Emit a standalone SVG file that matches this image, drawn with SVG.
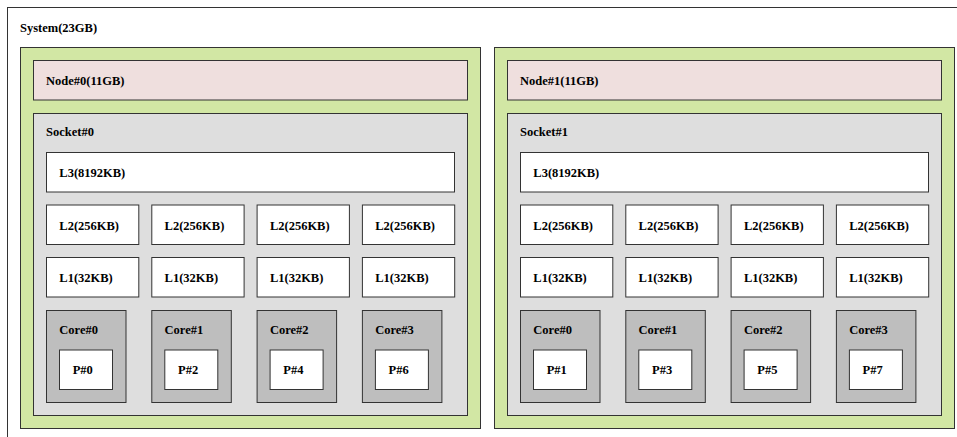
<svg xmlns="http://www.w3.org/2000/svg" width="957" height="437" viewBox="0 0 957 437">
<style>
rect{stroke:#333;stroke-width:1}
.sys{fill:#ffffff}
.node{fill:#d2e7a4}
.mem{fill:#efdfde}
.sock{fill:#dedede}
.cache{fill:#ffffff}
.core{fill:#bebebe}
.pu{fill:#ffffff}
text{font-family:"Liberation Serif","Times New Roman",serif;font-size:12.5px;font-weight:bold;fill:#000}
</style>
<g id="system">
<rect class="sys" x="7.5" y="7.5" width="965" height="445"/>
<text x="20" y="32">System(23GB)</text>
</g>
<g id="node0">
<rect class="node" x="20.5" y="47.5" width="460" height="381"/>
<g id="node0-mem"><rect class="mem" x="33.5" y="60.5" width="434" height="39.5"/><text x="46" y="85.3">Node#0(11GB)</text></g>
<g id="socket0">
<rect class="sock" x="33.5" y="113.5" width="434" height="302"/>
<text x="46" y="136.3">Socket#0</text>
<g id="s0-l3"><rect class="cache" x="46.5" y="152.5" width="408" height="39.5"/><text x="59.3" y="177">L3(8192KB)</text></g>
<g id="s0-l2-0"><rect class="cache" x="46.5" y="205" width="92.3" height="39.5"/><text x="59.3" y="229.5">L2(256KB)</text></g>
<g id="s0-l2-1"><rect class="cache" x="151.8" y="205" width="92.3" height="39.5"/><text x="164.6" y="229.5">L2(256KB)</text></g>
<g id="s0-l2-2"><rect class="cache" x="257.1" y="205" width="92.3" height="39.5"/><text x="269.9" y="229.5">L2(256KB)</text></g>
<g id="s0-l2-3"><rect class="cache" x="362.4" y="205" width="92.3" height="39.5"/><text x="375.2" y="229.5">L2(256KB)</text></g>
<g id="s0-l1-0"><rect class="cache" x="46.5" y="257.5" width="92.3" height="39.5"/><text x="59.3" y="282">L1(32KB)</text></g>
<g id="s0-l1-1"><rect class="cache" x="151.8" y="257.5" width="92.3" height="39.5"/><text x="164.6" y="282">L1(32KB)</text></g>
<g id="s0-l1-2"><rect class="cache" x="257.1" y="257.5" width="92.3" height="39.5"/><text x="269.9" y="282">L1(32KB)</text></g>
<g id="s0-l1-3"><rect class="cache" x="362.4" y="257.5" width="92.3" height="39.5"/><text x="375.2" y="282">L1(32KB)</text></g>
<g id="s0-core0"><rect class="core" x="46.5" y="310.5" width="79.5" height="92"/><text x="59.3" y="334">Core#0</text>
<g id="pu0"><rect class="pu" x="59.5" y="350" width="53" height="39.5"/><text x="72.7" y="373.5">P#0</text></g></g>
<g id="s0-core1"><rect class="core" x="151.8" y="310.5" width="79.5" height="92"/><text x="164.6" y="334">Core#1</text>
<g id="pu2"><rect class="pu" x="164.8" y="350" width="53" height="39.5"/><text x="178" y="373.5">P#2</text></g></g>
<g id="s0-core2"><rect class="core" x="257.1" y="310.5" width="79.5" height="92"/><text x="269.9" y="334">Core#2</text>
<g id="pu4"><rect class="pu" x="270.1" y="350" width="53" height="39.5"/><text x="283.3" y="373.5">P#4</text></g></g>
<g id="s0-core3"><rect class="core" x="362.4" y="310.5" width="79.5" height="92"/><text x="375.2" y="334">Core#3</text>
<g id="pu6"><rect class="pu" x="375.4" y="350" width="53" height="39.5"/><text x="388.6" y="373.5">P#6</text></g></g>
</g>
</g>
<g id="node1" transform="translate(474,0)">
<rect class="node" x="20.5" y="47.5" width="460" height="381"/>
<g id="node1-mem"><rect class="mem" x="33.5" y="60.5" width="434" height="39.5"/><text x="46" y="85.3">Node#1(11GB)</text></g>
<g id="socket1">
<rect class="sock" x="33.5" y="113.5" width="434" height="302"/>
<text x="46" y="136.3">Socket#1</text>
<g id="s1-l3"><rect class="cache" x="46.5" y="152.5" width="408" height="39.5"/><text x="59.3" y="177">L3(8192KB)</text></g>
<g id="s1-l2-0"><rect class="cache" x="46.5" y="205" width="92.3" height="39.5"/><text x="59.3" y="229.5">L2(256KB)</text></g>
<g id="s1-l2-1"><rect class="cache" x="151.8" y="205" width="92.3" height="39.5"/><text x="164.6" y="229.5">L2(256KB)</text></g>
<g id="s1-l2-2"><rect class="cache" x="257.1" y="205" width="92.3" height="39.5"/><text x="269.9" y="229.5">L2(256KB)</text></g>
<g id="s1-l2-3"><rect class="cache" x="362.4" y="205" width="92.3" height="39.5"/><text x="375.2" y="229.5">L2(256KB)</text></g>
<g id="s1-l1-0"><rect class="cache" x="46.5" y="257.5" width="92.3" height="39.5"/><text x="59.3" y="282">L1(32KB)</text></g>
<g id="s1-l1-1"><rect class="cache" x="151.8" y="257.5" width="92.3" height="39.5"/><text x="164.6" y="282">L1(32KB)</text></g>
<g id="s1-l1-2"><rect class="cache" x="257.1" y="257.5" width="92.3" height="39.5"/><text x="269.9" y="282">L1(32KB)</text></g>
<g id="s1-l1-3"><rect class="cache" x="362.4" y="257.5" width="92.3" height="39.5"/><text x="375.2" y="282">L1(32KB)</text></g>
<g id="s1-core0"><rect class="core" x="46.5" y="310.5" width="79.5" height="92"/><text x="59.3" y="334">Core#0</text>
<g id="pu1"><rect class="pu" x="59.5" y="350" width="53" height="39.5"/><text x="72.7" y="373.5">P#1</text></g></g>
<g id="s1-core1"><rect class="core" x="151.8" y="310.5" width="79.5" height="92"/><text x="164.6" y="334">Core#1</text>
<g id="pu3"><rect class="pu" x="164.8" y="350" width="53" height="39.5"/><text x="178" y="373.5">P#3</text></g></g>
<g id="s1-core2"><rect class="core" x="257.1" y="310.5" width="79.5" height="92"/><text x="269.9" y="334">Core#2</text>
<g id="pu5"><rect class="pu" x="270.1" y="350" width="53" height="39.5"/><text x="283.3" y="373.5">P#5</text></g></g>
<g id="s1-core3"><rect class="core" x="362.4" y="310.5" width="79.5" height="92"/><text x="375.2" y="334">Core#3</text>
<g id="pu7"><rect class="pu" x="375.4" y="350" width="53" height="39.5"/><text x="388.6" y="373.5">P#7</text></g></g>
</g>
</g>
<g id="connectors"/>
</svg>
